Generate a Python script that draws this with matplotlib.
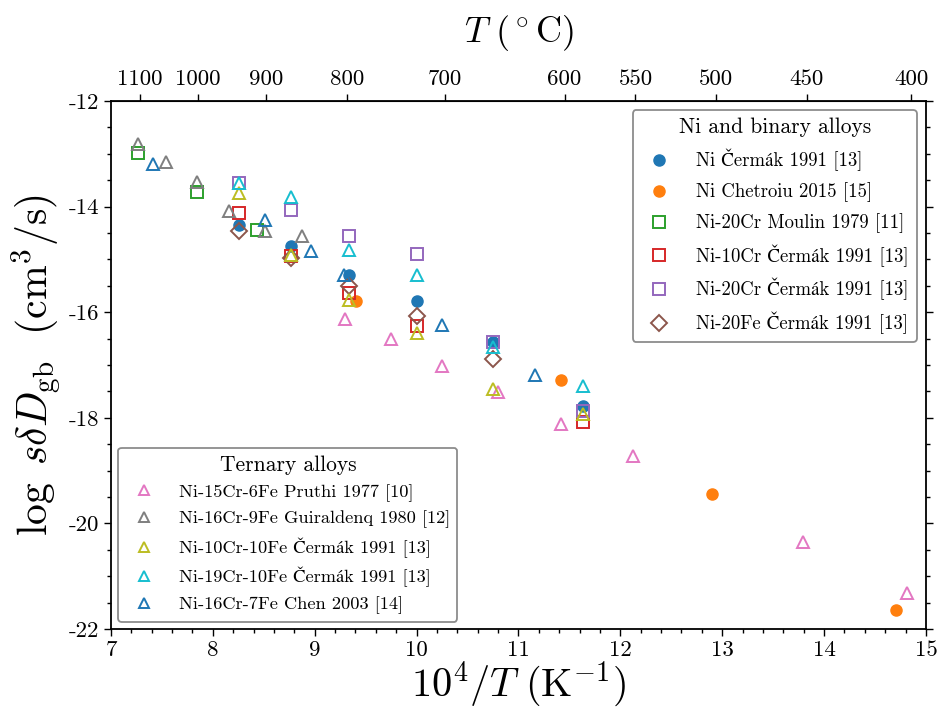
import matplotlib
matplotlib.use("Agg")
import matplotlib.pyplot as plt
import numpy as np
from matplotlib.ticker import MultipleLocator, NullLocator

plt.rcParams['font.family'] = ['cmr10', 'STIXGeneral']
plt.rcParams['mathtext.fontset'] = 'cm'
plt.rcParams['axes.unicode_minus'] = False
plt.rcParams['axes.formatter.use_mathtext'] = True

# Ni and binary alloys (x = 10^4/T in 1/K, y = log s*delta*D_gb)
ni_cermak_x = [8.26, 8.77, 9.34, 10.0, 10.75, 11.63]
ni_cermak_y = [-14.34, -14.74, -15.30, -15.78, -16.56, -17.78]
ni_chetroiu_x = [9.41, 11.42, 12.90, 14.71]
ni_chetroiu_y = [-15.78, -17.28, -19.44, -21.64]
ni20cr_moulin_x = [7.27, 7.84, 8.43]
ni20cr_moulin_y = [-12.99, -13.72, -14.44]
ni10cr_cermak_x = [8.26, 8.77, 9.34, 10.0, 11.63]
ni10cr_cermak_y = [-14.13, -14.93, -15.64, -16.27, -18.07]
ni20cr_cermak_x = [8.26, 8.77, 9.34, 10.0, 10.75, 11.63]
ni20cr_cermak_y = [-13.56, -14.06, -14.56, -14.90, -16.56, -17.88]
ni20fe_cermak_x = [8.26, 8.77, 9.34, 10.0, 10.75]
ni20fe_cermak_y = [-14.46, -14.98, -15.50, -16.07, -16.89]

# Ternary alloys
pruthi_x = [9.30, 9.75, 10.25, 10.80, 11.42, 12.12, 13.79, 14.81]
pruthi_y = [-16.12, -16.51, -17.01, -17.52, -18.12, -18.72, -20.36, -21.31]
guiraldenq_x = [7.27, 7.545, 7.84, 8.16, 8.51, 8.88]
guiraldenq_y = [-12.81, -13.15, -13.53, -14.08, -14.46, -14.56]
ni10cr10fe_x = [8.26, 8.77, 9.34, 10.0, 10.75, 11.63]
ni10cr10fe_y = [-13.75, -14.92, -15.77, -16.40, -17.45, -17.92]
ni19cr10fe_x = [8.26, 8.77, 9.34, 10.0, 10.75, 11.63]
ni19cr10fe_y = [-13.55, -13.81, -14.82, -15.30, -16.65, -17.40]
chen_x = [7.41, 8.51, 8.96, 9.29, 10.25, 11.16]
chen_y = [-13.20, -14.25, -14.84, -15.30, -16.25, -17.19]

top_ticks_C = [1100, 1000, 900, 800, 700, 600, 550, 500, 450, 400]

fig = plt.figure(figsize=(9.38, 7.13), dpi=100)
ax = fig.add_axes([0.1183, 0.1178, 0.8689, 0.7405])

ms = 8
mew = 1.4
h1 = []
h1.append(ax.plot(ni_cermak_x, ni_cermak_y, 'o', color='C0', ms=ms, label='Ni Čermák 1991 [13]')[0])
h1.append(ax.plot(ni_chetroiu_x, ni_chetroiu_y, 'o', color='C1', ms=ms, label='Ni Chetroiu 2015 [15]')[0])
h1.append(ax.plot(ni20cr_moulin_x, ni20cr_moulin_y, 's', mfc='none', mec='C2', mew=mew, ms=ms, label='Ni-20Cr Moulin 1979 [11]')[0])
h1.append(ax.plot(ni10cr_cermak_x, ni10cr_cermak_y, 's', mfc='none', mec='C3', mew=mew, ms=ms, label='Ni-10Cr Čermák 1991 [13]')[0])
h1.append(ax.plot(ni20cr_cermak_x, ni20cr_cermak_y, 's', mfc='none', mec='C4', mew=mew, ms=ms, label='Ni-20Cr Čermák 1991 [13]')[0])
h1.append(ax.plot(ni20fe_cermak_x, ni20fe_cermak_y, 'D', mfc='none', mec='C5', mew=mew, ms=ms, label='Ni-20Fe Čermák 1991 [13]')[0])

h2 = []
h2.append(ax.plot(pruthi_x, pruthi_y, '^', mfc='none', mec='C6', mew=mew, ms=ms, label='Ni-15Cr-6Fe Pruthi 1977 [10]')[0])
h2.append(ax.plot(guiraldenq_x, guiraldenq_y, '^', mfc='none', mec='C7', mew=mew, ms=ms, label='Ni-16Cr-9Fe Guiraldenq 1980 [12]')[0])
h2.append(ax.plot(ni10cr10fe_x, ni10cr10fe_y, '^', mfc='none', mec='C8', mew=mew, ms=ms, label='Ni-10Cr-10Fe Čermák 1991 [13]')[0])
h2.append(ax.plot(ni19cr10fe_x, ni19cr10fe_y, '^', mfc='none', mec='C9', mew=mew, ms=ms, label='Ni-19Cr-10Fe Čermák 1991 [13]')[0])
h2.append(ax.plot(chen_x, chen_y, '^', mfc='none', mec='C0', mew=mew, ms=ms, label='Ni-16Cr-7Fe Chen 2003 [14]')[0])

ax.set_xlim(7, 15)
ax.set_ylim(-22, -12)
ax.set_xticks(range(7, 16), [str(v) for v in range(7, 16)])
ax.set_yticks(range(-22, -11, 2), [str(v) for v in range(-22, -11, 2)])
ax.xaxis.set_minor_locator(MultipleLocator(0.2))
ax.yaxis.set_minor_locator(MultipleLocator(0.5))
ax.tick_params(which='both', direction='out', right=True, top=False, labelsize=16.5, width=1.0)
ax.tick_params(which='major', length=5)
ax.tick_params(which='minor', length=3)
for s in ax.spines.values():
    s.set_linewidth(1.3)

ax.set_xlabel(r'$10^4/T\ (\mathrm{K}^{-1})$', fontsize=29, labelpad=-1)
ax.set_ylabel(r'$\log\ s\delta D_{\mathrm{gb}}\ \ (\mathrm{cm}^3/\mathrm{s})$', fontsize=30, labelpad=4)

def inv_to_C(x):
    x = np.asarray(x, dtype=float)
    with np.errstate(divide='ignore'):
        return 1e4 / x - 273.15

def C_to_inv(t):
    t = np.asarray(t, dtype=float)
    with np.errstate(divide='ignore'):
        return 1e4 / (t + 273.15)

sec = ax.secondary_xaxis('top', functions=(inv_to_C, C_to_inv))
sec.set_xticks(top_ticks_C, [str(v) for v in top_ticks_C])
sec.xaxis.set_minor_locator(NullLocator())
sec.tick_params(labelsize=16.5, length=5, width=1.0)
sec.set_xlabel(r'$T\ (^\circ\mathrm{C})$', fontsize=26, labelpad=20)

leg1 = ax.legend(handles=h1, loc='upper right', title='Ni and binary alloys',
                 fontsize=13.5, title_fontsize=15.5, edgecolor='0.55', framealpha=1,
                 borderaxespad=0.5, labelspacing=0.6, handletextpad=1.0)
leg1.get_frame().set_linewidth(1.3)
ax.add_artist(leg1)
leg2 = ax.legend(handles=h2, loc='lower left', title='Ternary alloys',
                 fontsize=13.2, title_fontsize=15.5, edgecolor='0.55', framealpha=1,
                 borderaxespad=0.4, markerscale=0.85, labelspacing=0.5, handletextpad=0.9)
leg2.get_frame().set_linewidth(1.3)

fig.savefig('out.png', dpi=100)
